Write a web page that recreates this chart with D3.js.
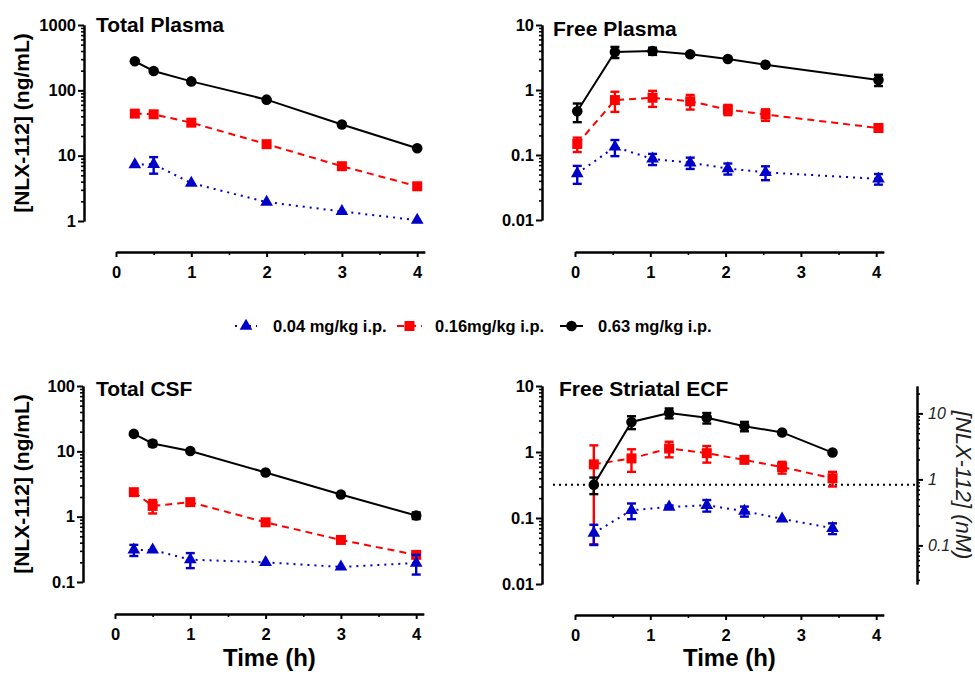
<!DOCTYPE html>
<html>
<head>
<meta charset="utf-8">
<script src="https://cdn.jsdelivr.net/npm/d3@7"></script>
<style>
  body { margin: 0; background: #fff; }
  svg { font-family: "Liberation Sans", Arial, sans-serif; font-weight: bold; }
</style>
</head>
<body>
<svg id="chart"></svg>
<script>
// doses: order is low, mid, high
const doseLabels = ["0.04 mg/kg i.p.", "0.16mg/kg i.p.", "0.63 mg/kg i.p."];

// Total Plasma (ng/mL)
const tpTime = [0.25, 0.5, 1, 2, 3, 4];
const tpMean = [
  [7.3, 7.4, 3.8, 1.95, 1.4, 1.03],
  [44, 43, 32, 15, 6.9, 3.4],
  [278, 198, 137, 72, 30, 13]
];
const tpSem = [
  [0, 2.1, 0, 0, 0, 0],
  [0, 0, 0, 0, 0, 0],
  [0, 0, 0, 0, 0, 0]
];

// Free Plasma (ng/mL)
const fpTime = [0.03, 0.53, 1.03, 1.53, 2.03, 2.53, 4.03];
const fpMean = [
  [0.052, 0.133, 0.087, 0.076, 0.062, 0.054, 0.043],
  [0.148, 0.70, 0.76, 0.67, 0.50, 0.42, 0.26],
  [0.47, 3.85, 3.97, 3.55, 3.0, 2.45, 1.43]
];
const fpSem = [
  [0.016, 0.037, 0.017, 0.015, 0.012, 0.013, 0.008],
  [0.037, 0.24, 0.21, 0.17, 0.09, 0.085, 0.02],
  [0.15, 0.75, 0.5, 0.15, 0.1, 0.1, 0.28]
];

// Total CSF (ng/mL)
const csfTime = [0.25, 0.5, 1, 2, 3, 4];
const csfMean = [
  [0.31, 0.31, 0.22, 0.20, 0.17, 0.195],
  [2.37, 1.46, 1.67, 0.82, 0.44, 0.26],
  [18.5, 13.2, 10.1, 4.75, 2.18, 1.04]
];
const csfSem = [
  [0.06, 0, 0.057, 0, 0, 0.065],
  [0, 0.34, 0, 0, 0, 0.02],
  [0, 1.2, 0, 0, 0, 0.12]
];

// Free Striatal ECF (ng/mL)
const ecfTime = [0.25, 0.75, 1.25, 1.75, 2.25, 2.75, 3.42];
const ecfMean = [
  [0.059, 0.131, 0.147, 0.156, 0.127, 0.097, 0.07],
  [0.65, 0.8, 1.13, 0.96, 0.76, 0.59, 0.40],
  [0.32, 2.85, 3.9, 3.3, 2.46, 1.98, 0.98]
];
const ecfSem = [
  [0.02, 0.035, 0.008, 0.031, 0.022, 0, 0.013],
  [0.61, 0.3, 0.3, 0.27, 0.05, 0.12, 0.1],
  [0.09, 0.63, 0.67, 0.6, 0.4, 0, 0]
];
const ecfThreshold = 0.32;   // dotted line, ng/mL
const nMPerNg = 2.6;         // right axis conversion

const xTicks = [0, 1, 2, 3, 4];
const xMinorTicks = [0.5, 1.5, 2.5, 3.5];

const colors = ["#0000c8", "#ff0000", "#000000"];
const dashes = ["2,5", "7,5", null];
const symbols = [d3.symbolTriangle, d3.symbolSquare, d3.symbolCircle];
const symSizes = [70, 100, 88];
const drawOrder = [1, 0, 2];

const svg = d3.select("#chart").attr("width", 975).attr("height", 674);

const panels = [
  {title: "Total Plasma", time: tpTime, mean: tpMean, sem: tpSem, yDomain: [1, 1000], yTicks: [1, 10, 100, 1000],
   axisX: 84, x0: 116, yTop: 25, yBottom: 221, xAxisY: 252, titleX: 96, titleY: 32, ylabel: true},
  {title: "Free Plasma", time: fpTime, mean: fpMean, sem: fpSem, yDomain: [0.01, 10], yTicks: [0.01, 0.1, 1, 10],
   axisX: 542, x0: 575, yTop: 25, yBottom: 220, xAxisY: 252, titleX: 553, titleY: 36},
  {title: "Total CSF", time: csfTime, mean: csfMean, sem: csfSem, yDomain: [0.1, 100], yTicks: [0.1, 1, 10, 100],
   axisX: 83, x0: 115, yTop: 386, yBottom: 582, xAxisY: 614, titleX: 96, titleY: 396, ylabel: true, xlabel: true},
  {title: "Free Striatal ECF", time: ecfTime, mean: ecfMean, sem: ecfSem, yDomain: [0.01, 10], yTicks: [0.01, 0.1, 1, 10],
   axisX: 542, x0: 575, yTop: 386, yBottom: 584, xAxisY: 615, titleX: 559, titleY: 396, xlabel: true, rightAxis: true}
];

function styleAxis(sel, fontSize, minor) {
  sel.select(".domain").attr("stroke", "#000").attr("stroke-width", 2);
  sel.selectAll(".tick line").attr("stroke", "#000").attr("stroke-width", minor ? 1.6 : 2);
  sel.selectAll(".tick text")
    .attr("fill", "#000")
    .style("font-size", fontSize + "px")
    .style("font-family", "'Liberation Sans', Arial, sans-serif")
    .style("font-weight", "bold");
}

function minorOf(scale, majors) {
  return scale.ticks().filter(v => !majors.some(m => Math.abs(m - v) / m < 1e-6));
}

function drawPanel(p) {
  const g = svg.append("g");
  const x = d3.scaleLinear().domain([0, 4.1]).range([p.x0, p.x0 + 4.1 * 75.3]);
  const y = d3.scaleLog().domain(p.yDomain).range([p.yBottom, p.yTop]);

  // y axis: minor ticks then majors with labels
  g.append("g")
    .attr("transform", `translate(${p.axisX},0)`)
    .call(d3.axisLeft(y).tickValues(minorOf(y, p.yTicks)).tickSize(3).tickFormat("").tickSizeOuter(0))
    .call(s => styleAxis(s, 16.5, true));
  g.append("g")
    .attr("transform", `translate(${p.axisX},0)`)
    .call(d3.axisLeft(y).tickValues(p.yTicks).tickSize(6).tickPadding(2).tickSizeOuter(0).tickFormat(d => String(d)))
    .call(s => styleAxis(s, 16.5, false));

  // x axis
  g.append("g")
    .attr("transform", `translate(0,${p.xAxisY})`)
    .call(d3.axisBottom(x).tickValues(xMinorTicks).tickSize(3).tickFormat("").tickSizeOuter(0))
    .call(s => styleAxis(s, 16.5, true));
  g.append("g")
    .attr("transform", `translate(0,${p.xAxisY})`)
    .call(d3.axisBottom(x).tickValues(xTicks).tickSize(5).tickPadding(9).tickSizeOuter(0).tickFormat(d3.format("d")))
    .call(s => styleAxis(s, 16.5, false));

  // title
  g.append("text")
    .attr("x", p.titleX).attr("y", p.titleY)
    .style("font-size", "21px")
    .text(p.title);

  if (p.ylabel) {
    g.append("text")
      .attr("transform", `translate(29,${(p.yTop + p.yBottom) / 2}) rotate(-90)`)
      .attr("text-anchor", "middle")
      .style("font-size", "21px")
      .text("[NLX-112] (ng/mL)");
  }
  if (p.xlabel) {
    g.append("text")
      .attr("x", x(2.05)).attr("y", 666)
      .attr("text-anchor", "middle")
      .style("font-size", "24px")
      .text("Time (h)");
  }

  if (p.rightAxis) {
    const yR = d3.scaleLog().domain([p.yDomain[0] * nMPerNg, p.yDomain[1] * nMPerNg]).range([p.yBottom, p.yTop]);
    const rMajors = [0.1, 1, 10];
    const rx = 917;
    // dotted threshold line
    g.append("line")
      .attr("x1", p.axisX + 11).attr("x2", rx)
      .attr("y1", y(ecfThreshold)).attr("y2", y(ecfThreshold))
      .attr("stroke", "#000").attr("stroke-width", 2).attr("stroke-dasharray", "2,4");
    g.append("g")
      .attr("transform", `translate(${rx},0)`)
      .call(d3.axisRight(yR).tickValues(minorOf(yR, rMajors)).tickSize(3).tickFormat("").tickSizeOuter(0))
      .call(s => styleAxis(s, 16, true));
    const ra = g.append("g")
      .attr("transform", `translate(${rx},0)`)
      .call(d3.axisRight(yR).tickValues(rMajors).tickSize(6).tickPadding(5).tickSizeOuter(0).tickFormat(d => String(d)))
      .call(s => styleAxis(s, 16, false));
    ra.selectAll(".tick text").style("font-weight", "normal").style("font-style", "italic").attr("fill", "#222");
    g.append("text")
      .attr("transform", `translate(956,${(p.yTop + p.yBottom) / 2}) rotate(90)`)
      .attr("text-anchor", "middle")
      .style("font-size", "22px")
      .style("font-weight", "normal")
      .style("font-style", "italic")
      .attr("fill", "#222")
      .text("[NLX-112] (nM)");
  }

  // series
  drawOrder.forEach(i => {
    const pts = p.time.map((t, j) => ({t: t, m: p.mean[i][j], s: p.sem[i][j]}));
    const sg = g.append("g");
    sg.append("path")
      .datum(pts)
      .attr("fill", "none")
      .attr("stroke", colors[i])
      .attr("stroke-width", 2)
      .attr("stroke-dasharray", dashes[i])
      .attr("d", d3.line().x(d => x(d.t)).y(d => y(d.m)));

    const eb = sg.selectAll(".err").data(pts.filter(d => d.s > 0)).join("g")
      .attr("stroke", colors[i]).attr("stroke-width", 2.4);
    eb.append("line")
      .attr("x1", d => x(d.t)).attr("x2", d => x(d.t))
      .attr("y1", d => y(d.m + d.s)).attr("y2", d => y(Math.max(d.m - d.s, p.yDomain[0])));
    eb.append("line")
      .attr("x1", d => x(d.t) - 4.5).attr("x2", d => x(d.t) + 4.5)
      .attr("y1", d => y(d.m + d.s)).attr("y2", d => y(d.m + d.s));
    eb.append("line")
      .attr("x1", d => x(d.t) - 4.5).attr("x2", d => x(d.t) + 4.5)
      .attr("y1", d => y(Math.max(d.m - d.s, p.yDomain[0]))).attr("y2", d => y(Math.max(d.m - d.s, p.yDomain[0])));

    sg.selectAll(".mk").data(pts).join("path")
      .attr("transform", d => `translate(${x(d.t)},${y(d.m)})`)
      .attr("d", d3.symbol().type(symbols[i]).size(symSizes[i]))
      .attr("fill", colors[i]);
  });
}

panels.forEach(drawPanel);

// legend
const legendY = 326;
const legendItems = [
  {x1: 235, x2: 257, tx: 273},
  {x1: 397, x2: 422, tx: 435},
  {x1: 560, x2: 583, tx: 598}
];
const lg = svg.append("g");
doseLabels.forEach((label, i) => {
  const it = legendItems[i];
  lg.append("line")
    .attr("x1", it.x1).attr("x2", it.x2).attr("y1", legendY).attr("y2", legendY)
    .attr("stroke", colors[i]).attr("stroke-width", 2).attr("stroke-dasharray", dashes[i]);
  lg.append("path")
    .attr("transform", `translate(${(it.x1 + it.x2) / 2},${legendY})`)
    .attr("d", d3.symbol().type(symbols[i]).size(symSizes[i]))
    .attr("fill", colors[i]);
  lg.append("text")
    .attr("x", it.tx).attr("y", legendY + 6)
    .style("font-size", "16.5px")
    .text(label);
});
</script>
</body>
</html>
